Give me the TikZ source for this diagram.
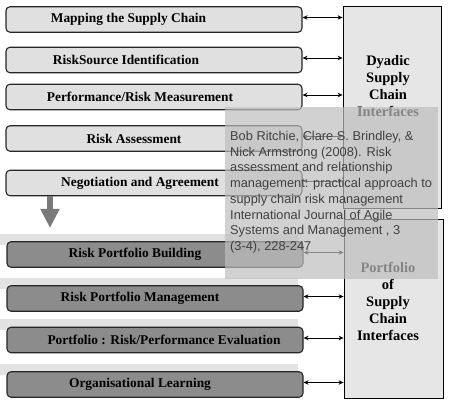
\documentclass[tikz,border=0pt]{standalone}
\usepackage{fontspec}
\setmainfont{Liberation Serif}
\newfontfamily\citefont{Liberation Sans}
\usetikzlibrary{arrows.meta}
\definecolor{lightbox}{HTML}{E0E0E0}
\definecolor{darkbox}{HTML}{8C8C8C}
\definecolor{bandgray}{HTML}{E2E2E2}
\definecolor{sidebox}{HTML}{E6E6E6}
\definecolor{overlaygray}{HTML}{BEBEBE}
\definecolor{citetext}{HTML}{404040}
\definecolor{downarrow}{HTML}{7A7A7A}
\begin{document}
\begin{tikzpicture}[x=1pt,y=-1pt,
  stagebox/.style={draw=black!85, line width=1.1pt, rounded corners=4pt,
    minimum width=296pt, minimum height=25.5pt, inner sep=0pt},
  lightstage/.style={stagebox, fill=lightbox},
  darkstage/.style={stagebox, fill=darkbox},
  stagetext/.style={font=\fontsize{13.4}{15}\selectfont\bfseries, inner sep=0pt, text=black},
  sidepanel/.style={draw=black, line width=0.8pt, fill=sidebox, inner sep=0pt},
  sidetext/.style={font=\fontsize{14.5}{17}\selectfont\bfseries, align=center, inner sep=0pt},
  twoway/.style={line width=0.8pt, {Stealth[length=5pt,width=4.5pt]}-{Stealth[length=5pt,width=4.5pt]}},
  band/.style={fill=bandgray, draw=none}
]
\useasboundingbox (0,0) rectangle (450,406);
\fill[white] (0,0) rectangle (450,406);

% right panels
\node[sidepanel, minimum width=98pt, minimum height=202pt] (d1) at (392,107) {};
\node[sidepanel, minimum width=99pt, minimum height=179pt] (d2) at (393.5,308.5) {};
\node[sidetext] (d1t) at (388,86) {Dyadic\\Supply\\Chain\\Interfaces};
\node[sidetext] (d2t) at (388,301) {Portfolio\\of\\Supply\\Chain\\Interfaces};

% light stages
\node[lightstage] (b1) at (154,19.5) {};
\node[lightstage] (b2) at (154,60) {};
\node[lightstage] (b3) at (154,97) {};
\node[lightstage] (b4) at (154,138.5) {};
\node[lightstage] (b5) at (154,183) {};
\node[stagetext] (t1) at (128.5,19.5) {Mapping the Supply Chain};
\node[stagetext] (t2) at (126,60) {RiskSource Identification};
\node[stagetext] (t3) at (140,97) {Performance/Risk Measurement};
\node[stagetext] (t4) at (134,138.5) {Risk Assessment};
\node[stagetext] (t5) at (140,183) {Negotiation and Agreement};

% dark stages with background bands
\fill[band] (0,234) rectangle (298,245);
\fill[band] (0,278) rectangle (298,289);
\fill[band] (0,319) rectangle (298,330);
\fill[band] (0,364) rectangle (298,375);
\node[darkstage] (b6) at (155,254.5) {};
\node[darkstage] (b7) at (155,298.5) {};
\node[darkstage] (b8) at (155,340) {};
\node[darkstage] (b9) at (155,384.5) {};
\node[stagetext] (t6) at (135,254.5) {Risk Portfolio Building};
\node[stagetext] (t7) at (140,298.5) {Risk Portfolio Management};
\node[stagetext] (t8) at (164,340) {Portfolio : Risk/Performance Evaluation};
\node[stagetext] (t9) at (140,384.5) {Organisational Learning};

% two-way connectors
\foreach \b in {b1,b2,b3,b4,b5}
  \draw[twoway] ([yshift=2pt]\b.east) -- ([yshift=2pt]\b.east -| d1.west);
\foreach \b in {b6,b7,b8,b9}
  \draw[twoway] ([yshift=2pt]\b.east) -- ([yshift=2pt]\b.east -| d2.west);

% down arrow
\coordinate (downend) at (50,228);
\draw[downarrow, line width=6pt, -{Triangle[length=19pt,width=18pt]}] (b5.south -| downend) -- (downend);

% citation overlay
\fill[overlaygray, fill opacity=0.7] (225,107) rectangle (438,279);
\node[font=\citefont\fontsize{12.8}{15.75}\selectfont, text=citetext, align=left,
  anchor=north west, inner sep=0pt] (cite) at (230,131)
  {Bob Ritchie, Clare S. Brindley, \&\\
   Nick Armstrong (2008). Risk\\
   assessment and relationship\\
   management: practical approach to\\
   supply chain risk management\\
   International Journal of Agile\\
   Systems and Management , 3\\
   (3-4), 228-247};
\end{tikzpicture}
\end{document}
